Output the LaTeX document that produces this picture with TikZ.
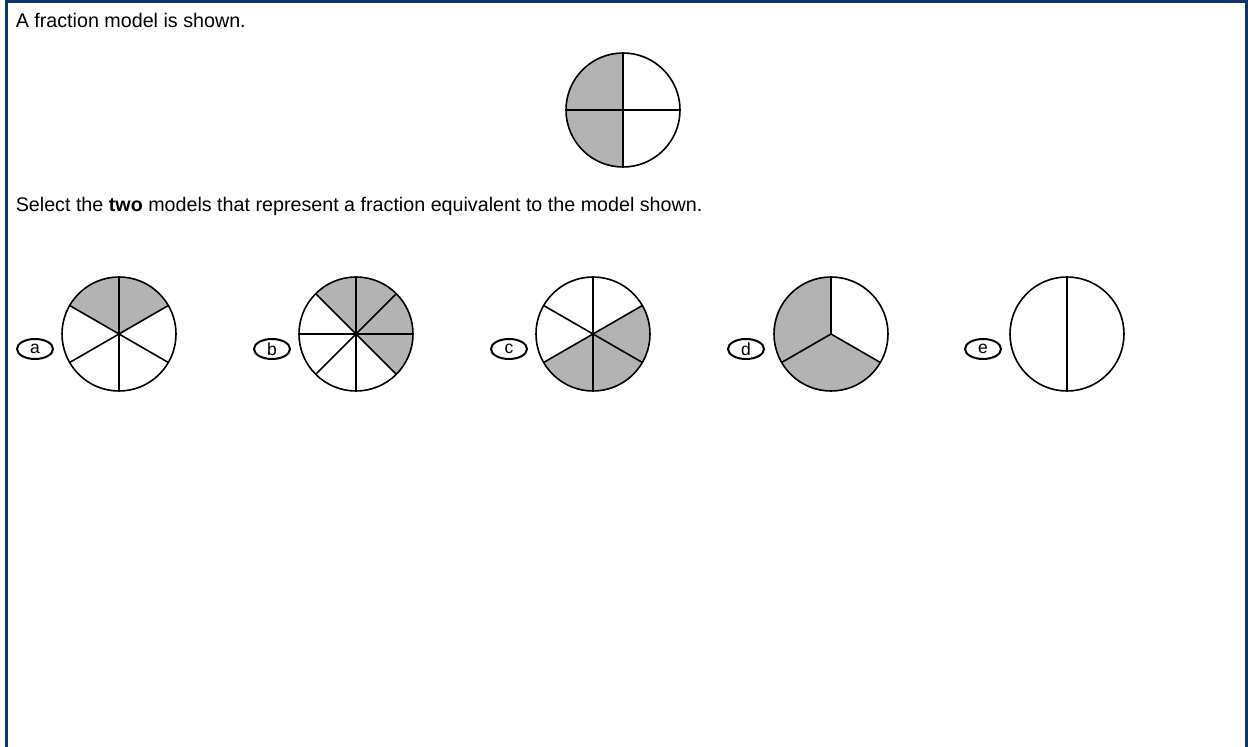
\documentclass[tikz,border=0pt]{standalone}
\usepackage{fontspec}
\setmainfont{Liberation Sans}
\usepackage{xcolor}
\usetikzlibrary{shapes.geometric, backgrounds}
\definecolor{framecol}{RGB}{18,52,108}
\definecolor{shadecol}{RGB}{179,179,179}

\begin{document}
\begin{tikzpicture}[x=1pt,y=1pt,line width=1.6pt,
    disc/.style={circle,draw,minimum size=114pt,inner sep=0pt,outer sep=0pt},
    choice/.style={ellipse,draw,line width=2pt,minimum width=36pt,minimum height=20pt,inner sep=0pt,font=\fontsize{17.5}{20}\selectfont},
    prompt/.style={anchor=base west,inner sep=0pt,font=\fontsize{19.7}{23}\selectfont},
    part/.style={fill=shadecol}]
  \useasboundingbox (0,0) rectangle (1248,747);
  \draw[framecol,line width=3pt] (6,0) -- (6,745.5) -- (1246.5,745.5) -- (1246.5,0);

  \node[prompt] (ask) at (15,719) {A fraction model is shown.};
  \node[prompt] (task) at (15,535) {Select the \textbf{two} models that represent a fraction equivalent to the model shown.};

  % model and answer discs
  \node[disc] (m) at (623,637) {};
  \node[disc] (pa) at (119,413) {};
  \node[disc] (pb) at (356,413) {};
  \node[disc] (pc) at (593,413) {};
  \node[disc] (pd) at (831,413) {};
  \node[disc] (pe) at (1067,413) {};

  \node[choice] (la) at (35,398) {a};
  \node[choice] (lb) at (272,398) {b};
  \node[choice] (lc) at (509,398) {c};
  \node[choice] (ld) at (746,398) {d};
  \node[choice] (le) at (983,398) {e};

  \begin{scope}[on background layer]
    \fill[part] (m.center) -- (m.90) arc[start angle=90,end angle=270,radius=57] -- cycle;
    \fill[part] (pa.center) -- (pa.30) arc[start angle=30,end angle=150,radius=57] -- cycle;
    \fill[part] (pb.center) -- (pb.-45) arc[start angle=-45,end angle=135,radius=57] -- cycle;
    \fill[part] (pc.center) -- (pc.-150) arc[start angle=-150,end angle=30,radius=57] -- cycle;
    \fill[part] (pd.center) -- (pd.90) arc[start angle=90,end angle=330,radius=57] -- cycle;
  \end{scope}

  \foreach \a in {0,90,180,270} \draw (m.center) -- (m.\a);
  \foreach \a in {30,90,150,210,270,330} {
    \draw (pa.center) -- (pa.\a);
    \draw (pc.center) -- (pc.\a);
  }
  \foreach \a in {0,45,...,315} \draw (pb.center) -- (pb.\a);
  \foreach \a in {90,210,330} \draw (pd.center) -- (pd.\a);
  \draw (pe.90) -- (pe.270);
\end{tikzpicture}
\end{document}
